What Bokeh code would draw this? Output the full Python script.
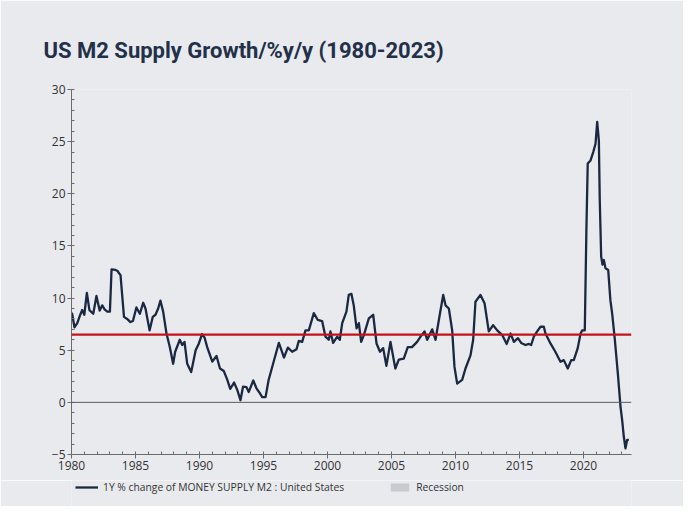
from bokeh.plotting import figure
from bokeh.layouts import column
from bokeh.models import (ColumnDataSource, Span, Legend, LegendItem,
                          FixedTicker, Range1d)
from bokeh.embed import file_html
from bokeh.resources import INLINE

# ---- data ----
dates = [1980.00, 1980.05, 1980.23, 1980.45, 1980.65, 1980.83, 1981.00, 1981.20, 1981.40, 1981.70,
         1981.95, 1982.20, 1982.40, 1982.60, 1982.80, 1983.00, 1983.13, 1983.44, 1983.60, 1983.70,
         1983.83, 1984.10, 1984.35, 1984.60, 1984.80, 1985.07, 1985.34, 1985.60, 1985.78, 1986.10,
         1986.35, 1986.56, 1986.77, 1986.95, 1987.16, 1987.42, 1987.68, 1987.94, 1988.10, 1988.46,
         1988.65, 1988.83, 1989.04, 1989.35, 1989.70, 1989.95, 1990.20, 1990.40, 1990.60, 1990.80,
         1991.00, 1991.33, 1991.60, 1991.90, 1992.16, 1992.40, 1992.70, 1992.95, 1993.20, 1993.40,
         1993.67, 1993.85, 1994.20, 1994.45, 1994.70, 1994.90, 1995.16, 1995.40, 1995.76, 1996.20,
         1996.40, 1996.60, 1996.90, 1997.24, 1997.58, 1997.76, 1998.02, 1998.28, 1998.54, 1998.93,
         1999.24, 1999.58, 1999.84, 2000.10, 2000.23, 2000.44, 2000.76, 2000.96, 2001.15, 2001.48,
         2001.66, 2001.87, 2002.05, 2002.27, 2002.45, 2002.63, 2002.84, 2003.23, 2003.57, 2003.83,
         2004.10, 2004.35, 2004.60, 2004.92, 2005.30, 2005.57, 2005.96, 2006.27, 2006.60, 2007.00,
         2007.27, 2007.58, 2007.79, 2008.18, 2008.44, 2008.77, 2009.04, 2009.22, 2009.48, 2009.74,
         2009.92, 2010.13, 2010.52, 2010.78, 2011.17, 2011.38, 2011.56, 2011.95, 2012.27, 2012.60,
         2012.94, 2013.26, 2013.65, 2014.00, 2014.30, 2014.56, 2014.88, 2015.13, 2015.47, 2015.73,
         2015.91, 2016.12, 2016.38, 2016.64, 2016.90, 2017.03, 2017.42, 2017.80, 2018.20, 2018.46,
         2018.77, 2019.04, 2019.24, 2019.55, 2019.77, 2019.90, 2020.10, 2020.23, 2020.33, 2020.55,
         2020.76, 2020.94, 2021.07, 2021.20, 2021.27, 2021.38, 2021.48, 2021.59, 2021.72, 2021.93,
         2022.10, 2022.24, 2022.45, 2022.50, 2022.68, 2022.89, 2023.02, 2023.15, 2023.28, 2023.41,
         2023.54]
m2_yoy = [8.3, 8.5, 7.2, 7.6, 8.3, 8.85, 8.4, 10.5, 8.85, 8.5,
          10.2, 8.8, 9.3, 8.9, 8.7, 8.7, 12.75, 12.7, 12.6, 12.4,
          12.2, 8.2, 8.0, 7.7, 7.8, 9.1, 8.5, 9.55, 9.0, 6.9,
          8.2, 8.4, 9.0, 9.75, 8.7, 6.6, 5.3, 3.7, 4.85, 6.0,
          5.5, 5.8, 3.7, 2.9, 5.0, 5.65, 6.55, 6.2, 5.3, 4.6,
          3.9, 4.45, 3.25, 3.0, 2.2, 1.3, 1.9, 1.2, 0.2, 1.5,
          1.45, 1.0, 2.1, 1.35, 0.9, 0.5, 0.5, 2.15, 3.75, 5.7,
          5.0, 4.3, 5.25, 4.85, 5.1, 5.9, 5.8, 6.9, 6.9, 8.55,
          7.9, 7.8, 6.3, 6.0, 6.8, 5.7, 6.3, 6.0, 7.6, 8.7,
          10.3, 10.4, 9.3, 7.1, 7.6, 5.8, 6.45, 8.05, 8.4, 5.65,
          4.85, 5.2, 3.5, 5.8, 3.25, 4.1, 4.2, 5.3, 5.3, 5.8,
          6.3, 6.8, 6.0, 7.0, 6.0, 8.4, 10.3, 9.3, 9.0, 6.9,
          3.4, 1.8, 2.15, 3.25, 4.5, 6.0, 9.65, 10.3, 9.5, 6.8,
          7.4, 6.9, 6.45, 5.6, 6.6, 5.8, 6.15, 5.7, 5.5, 5.6,
          5.5, 6.3, 6.8, 7.25, 7.25, 6.6, 5.65, 4.85, 3.9, 4.05,
          3.25, 4.05, 4.05, 5.2, 6.6, 6.9, 6.9, 16.8, 22.9, 23.2,
          24.0, 24.8, 26.9, 25.1, 19.4, 14.0, 13.2, 13.65, 12.85, 12.7,
          9.8, 8.5, 6.0, 5.3, 2.8, -0.4, -1.7, -3.3, -4.4, -3.6,
          -3.6]
average_growth = 6.5
x_ticks = [1980, 1985, 1990, 1995, 2000, 2005, 2010, 2015, 2020]
y_ticks = [-5, 0, 5, 10, 15, 20, 25, 30]
# recession periods: the reference shows them only as a legend entry (no shading visible)
recession_start = [1980.0, 1981.5, 1990.5, 2001.2, 2007.9, 2020.1]
recession_end = [1980.5, 1982.9, 1991.2, 2001.9, 2009.5, 2020.3]

title_text = "US M2 Supply Growth/%y/y (1980-2023)"
series_label = "1Y % change of MONEY SUPPLY M2 : United States"
recession_label = "Recession"

BG = "#E9EAEE"
NAVY = "#1B2841"
REC_GREY = "#C9CACF"
TICK_FONT = "Open Sans"

main = figure(width=683, height=480, output_backend="svg", toolbar_location=None,
              x_range=Range1d(1980, 2023.75), y_range=Range1d(-5, 30),
              background_fill_color=BG, border_fill_color=BG,
              min_border_left=71, min_border_right=52, min_border_top=89, min_border_bottom=26,
              title=title_text)
main.outline_line_color = None
main.grid.visible = False

main.title.text_font = "Roboto"
main.title.text_font_style = "bold"
main.title.text_font_size = "22px"
main.title.text_color = "#223049"
main.title.align = "left"
main.title.offset = -28
main.title.standoff = 54

main.add_layout(Span(location=0, dimension="width", line_color="#5A5A5A", line_width=1))
main.add_layout(Span(location=average_growth, dimension="width", line_color="#C0141C", line_width=2.2))

src = ColumnDataSource(dict(x=dates, y=m2_yoy))
main.line("x", "y", source=src, line_color=NAVY, line_width=2.3, line_join="round")

for ax in (main.xaxis[0], main.yaxis[0]):
    ax.axis_line_color = "#6B6B6B"
    ax.major_tick_line_color = "#6B6B6B"
    ax.minor_tick_line_color = "#6B6B6B"
    ax.major_tick_in = 0
    ax.major_tick_out = 4
    ax.minor_tick_in = 3
    ax.minor_tick_out = 0
    ax.major_label_text_font = TICK_FONT
    ax.major_label_text_font_size = "12px"
    ax.major_label_text_color = "#333333"
    ax.major_label_standoff = 2

main.xaxis.ticker = FixedTicker(ticks=x_ticks, minor_ticks=list(range(1980, 2024)))
main.yaxis.ticker = FixedTicker(ticks=y_ticks, minor_ticks=list(range(-5, 31)))

# ---- legend strip (its frame is aligned with the main frame by the column) ----
leg_fig = figure(width=683, height=26, output_backend="svg", toolbar_location=None,
                 x_range=Range1d(0, 1), y_range=Range1d(0, 1),
                 x_axis_type=None, y_axis_type=None,
                 background_fill_color=BG, border_fill_color=BG,
                 min_border_left=0, min_border_right=0, min_border_top=0, min_border_bottom=0)
leg_fig.outline_line_color = None
leg_fig.grid.visible = False
rec_src = ColumnDataSource(dict(left=recession_start, right=recession_end,
                                bottom=[-5] * len(recession_start), top=[30] * len(recession_start)))
leg_line = leg_fig.line("x", "y", source=src, line_color=NAVY, line_width=2.3)
leg_rec = leg_fig.quad(left="left", right="right", bottom="bottom", top="top", source=rec_src,
                       fill_color=REC_GREY, line_color=None)

leg = Legend(items=[LegendItem(label=series_label, renderers=[leg_line]),
                    LegendItem(label=recession_label, renderers=[leg_rec])],
             location=(4, 12), orientation="horizontal",
             background_fill_alpha=0, border_line_color=None, padding=0, margin=0,
             glyph_width=23, glyph_height=10, label_standoff=5, label_height=10,
             spacing=44,
             label_text_font=TICK_FONT, label_text_font_size="10.3px",
             label_text_color="#333333")
leg_fig.add_layout(leg)

p = column(main, leg_fig, spacing=0)

open("out.html", "w").write(file_html(p, INLINE))
